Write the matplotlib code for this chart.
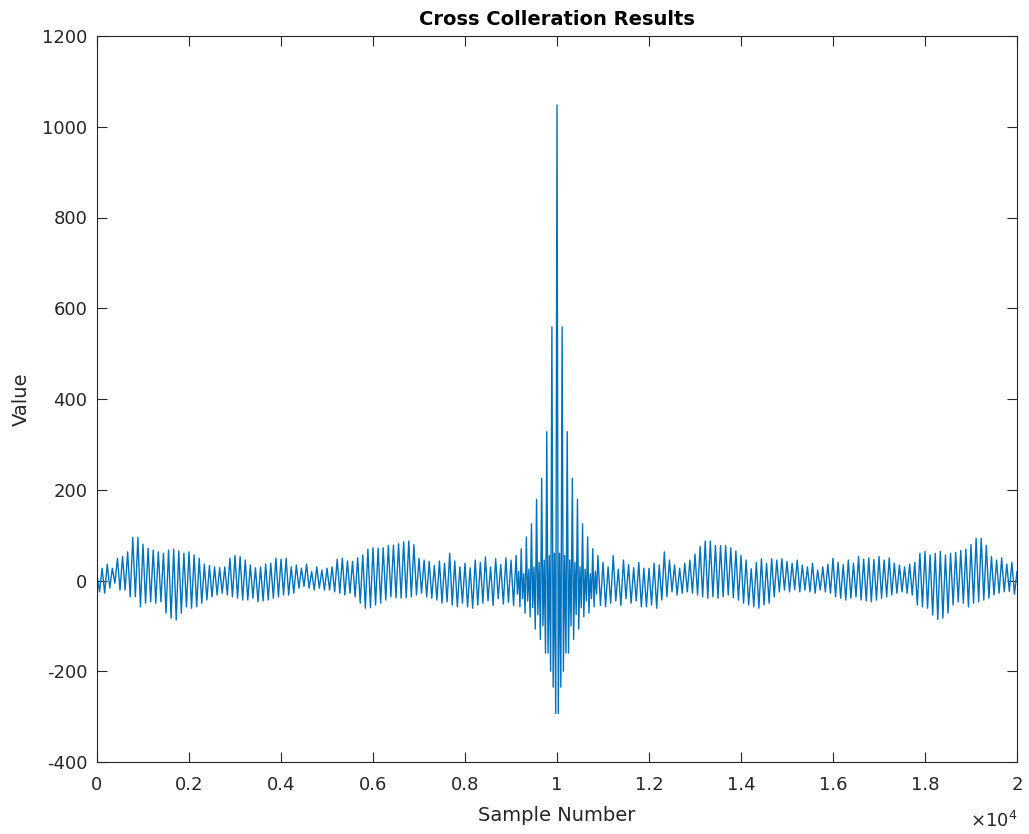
import numpy as np
import matplotlib
matplotlib.use("Agg")
import matplotlib.pyplot as plt

plt.rcParams['font.family'] = ['DejaVu Sans']
plt.rcParams['axes.unicode_minus'] = False

left_vals = [
    12, -25, 27, -28, 36, -17, 27, -6, 49, -21, 53, -21, 63, -36, 95, -36,
    95, -58, 80, -50, 71, -47, 67, -50, 63, -47, 60, -72, 67, -83, 69, -87,
    65, -72, 60, -58, 63, -61, 56, -58, 49, -50, 36, -43, 33, -36, 30, -32,
    28, -28, 30, -32, 49, -36, 55, -39, 53, -43, 45, -43, 34, -39, 28, -47,
    30, -45, 36, -43, 38, -39, 49, -36, 47, -32, 49, -32, 30, -28, 34, -17,
    27, -13, 36, -17, 20, -21, 30, -17, 23, -21, 27, -21, 30, -25, 47, -28,
    49, -32, 43, -28, 42, -36, 50, -50, 56, -61, 69, -60, 72, -54, 71, -50,
    72, -43, 77, -36, 78, -38, 81, -39, 85, -38, 87, -36, 79, -32, 49, -28,
    45, -36, 42, -39, 33, -43, 43, -50, 38, -47, 60, -54, 43, -58, 30, -50,
    38, -58, 28, -61, 45, -54, 40, -50, 52, -45, 30, -55, 48, -40, 35, -52,
    50, -48, 45, -55,
]

# centre of the correlation (~9100 .. ~10900), four readings per cycle
center_vals = [
    55, -30, 20, -58,
    70, -40, 15, -72,
    96, -45, 25, -80,
    125, -60, 30, -107,
    179, -75, 40, -130,
    225, -100, 45, -160,
    328, -160, 55, -200,
    559, -235, 60, -293,
    1048, -293, 60, -235,
    559, -200, 55, -160,
    328, -160, 45, -100,
    225, -130, 40, -75,
    179, -107, 30, -60,
    125, -80, 25, -45,
    96, -72, 15, -40,
    70, -58, 20, -30,
    55,
]

# trough / peak pairs for the right half (~10900 .. 20000)
right_vals = [
    -55, 40, -58, 30, -50, 55, -45, 25, -55, 45, -40, 35, -50, 28, -45, 40,
    -58, 27, -58, 27, -54, 38, -61, 34, -43, 63, -36, 45, -25, 34, -32, 27,
    -28, 38, -25, 45, -28, 58, -32, 75, -36, 87, -39, 87, -36, 77, -39, 77,
    -36, 77, -32, 72, -38, 65, -43, 55, -50, 45, -54, 26, -58, 40, -61, 48,
    -54, 38, -50, 48, -36, 45, -25, 48, -21, 42, -25, 38, -20, 45, -25, 34,
    -21, 30, -25, 38, -28, 23, -21, 30, -25, 36, -28, 49, -36, 40, -39, 35,
    -43, 45, -39, 38, -36, 53, -43, 47, -45, 50, -47, 46, -43, 53, -39, 45,
    -36, 50, -32, 38, -28, 34, -25, 30, -28, 36, -32, 40, -54, 60, -58, 64,
    -61, 56, -76, 60, -86, 64, -83, 56, -72, 60, -54, 62, -47, 66, -50, 69,
    -58, 79, -50, 93, -47, 93, -43, 77, -39, 53, -32, 45, -28, 50, -25, 36,
    -24, 40, -30, 20,
]

xtick_vals = [0, 2000, 4000, 6000, 8000, 10000, 12000, 14000, 16000, 18000, 20000]
xtick_labels = ['0', '0.2', '0.4', '0.6', '0.8', '1', '1.2', '1.4', '1.6', '1.8', '2']
ytick_vals = [-400, -200, 0, 200, 400, 600, 800, 1000, 1200]

# sample positions: half cycle = 10000/180 samples, quarter cycle in the centre
half = 10000 / 180
x_left = np.arange(len(left_vals)) * half
x_center = 82 * 2 * half + np.arange(len(center_vals)) * half / 2
x_right = x_center[-1] + (np.arange(len(right_vals)) + 1) * half
samples = np.concatenate([x_left, x_center, x_right])
values = np.concatenate([left_vals, center_vals, right_vals])

fig = plt.figure(figsize=(10.29, 8.34), dpi=100)
ax = fig.add_axes([97 / 1029, (834 - 762) / 834, 920 / 1029, 726 / 834])
ax.plot(samples, values, color='#0072BD', linewidth=1.0)

ax.set_xlim(0, 20000)
ax.set_ylim(-400, 1200)
ax.set_xticks(xtick_vals)
ax.set_xticklabels(xtick_labels)
ax.set_yticks(ytick_vals)
ax.tick_params(direction='in', length=7, width=0.8, top=True, right=True,
               labelsize=13, colors='#262626')
ax.tick_params(axis='x', pad=10)
ax.tick_params(axis='y', pad=7)
for sp in ax.spines.values():
    sp.set_color('#262626')
    sp.set_linewidth(0.8)

ax.set_title('Cross Colleration Results', fontsize=14, fontweight='bold', pad=8)
ax.set_xlabel('Sample Number', fontsize=14, color='#262626', labelpad=9)
ax.set_ylabel('Value', fontsize=14, color='#262626', labelpad=8)
ax.text(1.0, -0.068, r'$\times$10$^4$', transform=ax.transAxes, ha='right',
        va='top', fontsize=13, color='#262626')

fig.savefig('out.png', dpi=100)
